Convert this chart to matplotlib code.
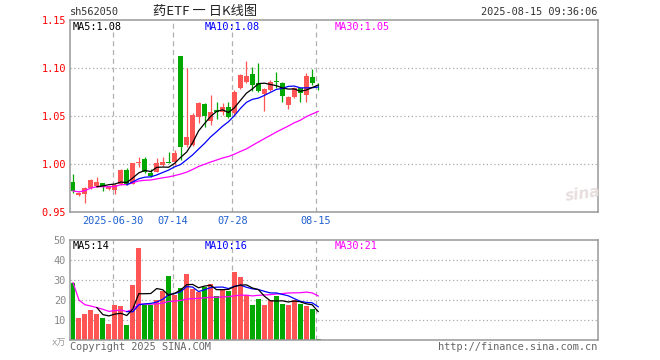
import numpy as np
import pandas as pd
import matplotlib
matplotlib.use('Agg')
import matplotlib.pyplot as plt
import matplotlib.transforms as mtransforms

plt.rcParams['font.family'] = ['DejaVu Sans Mono', 'Noto Sans CJK SC']

# 日K数据 (2025-06-19 ~ 2025-08-15)
dates = ['06-19', '06-20', '06-23', '06-24', '06-25', '06-26', '06-27', '06-30',
         '07-01', '07-02', '07-03', '07-04', '07-07', '07-08', '07-09', '07-10',
         '07-11', '07-14', '07-15', '07-16', '07-17', '07-18', '07-21', '07-22',
         '07-23', '07-24', '07-25', '07-28', '07-29', '07-30', '07-31', '08-01',
         '08-04', '08-05', '08-06', '08-07', '08-08', '08-11', '08-12', '08-13',
         '08-14', '08-15']
opens = [0.9813, 0.9670, 0.9681, 0.9750, 0.9768, 0.9796, 0.9733, 0.9726,
         0.9785, 0.9934, 0.9790, 1.0010, 1.0050, 0.9900, 0.9917, 0.9986,
         1.0018, 1.0021, 1.1122, 1.0195, 1.0195, 1.0490, 1.0619, 1.0445,
         1.0559, 1.0542, 1.0594, 1.0525, 1.0785, 1.0854, 1.0934, 1.0844,
         1.0726, 1.0768, 1.0858, 1.0844, 1.0611, 1.0698, 1.0785, 1.0716,
         1.0906, 1.0832]
highs = [0.9890, 0.9710, 0.9760, 0.9840, 0.9865, 0.9800, 0.9765, 0.9785,
         0.9940, 0.9952, 1.0010, 1.0073, 1.0070, 0.9940, 1.0056, 1.0067,
         1.0125, 1.0143, 1.1122, 1.1000, 1.0525, 1.0646, 1.0630, 1.0716,
         1.0640, 1.0630, 1.0640, 1.0770, 1.0935, 1.1073, 1.1010, 1.1050,
         1.0790, 1.0870, 1.0958, 1.0850, 1.0710, 1.0800, 1.0790, 1.0948,
         1.0986, 1.0838]
lows = [0.9690, 0.9660, 0.9588, 0.9740, 0.9760, 0.9719, 0.9725, 0.9684,
        0.9780, 0.9775, 0.9785, 0.9969, 0.9900, 0.9860, 0.9910, 0.9980,
        1.0004, 0.9986, 1.0039, 1.0177, 1.0180, 1.0421, 1.0385, 1.0403,
        1.0466, 1.0510, 1.0473, 1.0500, 1.0780, 1.0838, 1.0760, 1.0750,
        1.0550, 1.0760, 1.0785, 1.0646, 1.0567, 1.0680, 1.0646, 1.0646,
        1.0820, 1.0768]
closes = [0.9716, 0.9698, 0.9744, 0.9830, 0.9813, 0.9760, 0.9760, 0.9778,
          0.9934, 0.9785, 1.0004, 1.0020, 0.9910, 0.9870, 1.0004, 1.0021,
          1.0012, 1.0115, 1.0177, 1.0281, 1.0507, 1.0629, 1.0500, 1.0542,
          1.0542, 1.0594, 1.0490, 1.0750, 1.0924, 1.0914, 1.0820, 1.0760,
          1.0778, 1.0854, 1.0852, 1.0705, 1.0698, 1.0785, 1.0733, 1.0914,
          1.0837, 1.0827]
# 成交量 (万)
volumes = [28.7, 11.2, 13.0, 15.0, 13.0, 11.2, 8.0, 17.5, 17.0, 7.5,
           27.5, 46.2, 17.5, 17.5, 20.0, 24.5, 32.2, 22.5, 25.8, 33.2,
           25.3, 23.8, 26.7, 28.0, 22.0, 25.3, 24.5, 34.0, 31.5, 22.5,
           17.5, 20.5, 17.5, 20.0, 22.0, 18.0, 17.5, 20.0, 18.0, 17.0,
           15.5, 0.5]

tick_dates = ['06-30', '07-14', '07-28', '08-15']
tick_labels = ['2025-06-30', '07-14', '07-28', '08-15']

RED = '#ff5555'
GREEN = '#00a800'
FRAME = '#999999'
GRID = '#aaaaaa'

df = pd.DataFrame({'open': opens, 'high': highs, 'low': lows, 'close': closes, 'vol': volumes})
x = np.arange(len(df))
up = df['close'] >= df['open']
colors = np.where(up, RED, GREEN)

# 均线
ma5 = df['close'].rolling(5).mean()
ma10 = df['close'].rolling(10).mean()
ma30 = df['close'].rolling(30, min_periods=1).mean()
vma5 = df['vol'].rolling(5).mean()
vma10 = df['vol'].rolling(10).mean()
vma30 = df['vol'].rolling(30, min_periods=1).mean()

W, H = 660, 360
fig = plt.figure(figsize=(6.6, 3.6), dpi=100)
fig.patch.set_facecolor('white')

left, right = 69.5, 597.5
ax1 = fig.add_axes([left / W, 1 - 211.7 / H, (right - left) / W, 192 / H])
ax2 = fig.add_axes([left / W, 1 - 340 / H, (right - left) / W, 100 / H])

xlim = (-0.585, 87.7)
grid_x = [dates.index(d) - 0.35 for d in tick_dates]

for ax in (ax1, ax2):
    ax.set_xlim(*xlim)
    for s in ax.spines.values():
        s.set_color(FRAME)
        s.set_linewidth(1.1)
    for gx in grid_x:
        ax.axvline(gx, color='#b0b0b0', lw=0.9, dashes=(4, 3), zorder=0)
    ax.tick_params(length=0)

# K线
body_w = 0.83
ax1.vlines(x, df['low'], df['high'], colors=colors, lw=0.9, zorder=2)
body_bottom = np.minimum(df['open'], df['close'])
body_h = np.maximum(np.abs(df['close'] - df['open']), 0.0006)
ax1.bar(x, body_h, bottom=body_bottom, width=body_w, color=colors, lw=0, zorder=3)

ax1.plot(x, ma30, color='#ff00ff', lw=0.9, zorder=4)
ax1.plot(x, ma10, color='#0000ff', lw=0.9, zorder=4)
ax1.plot(x, ma5, color='black', lw=0.9, zorder=4)

ax1.set_ylim(0.95, 1.15)
for gy in [1.00, 1.05, 1.10]:
    ax1.axhline(gy, color=GRID, lw=0.9, dashes=(1, 2), zorder=0)
ax1.set_yticks([0.95, 1.00, 1.05, 1.10, 1.15])
ax1.set_yticklabels(['0.95', '1.00', '1.05', '1.10', '1.15'], color='red', fontsize=7.4)
ax1.tick_params(axis='y', pad=2.5)
ax1.set_xticks(grid_x)
ax1.set_xticklabels(tick_labels, color='#1f5fcf', fontsize=7.4)
ax1.tick_params(axis='x', pad=3)

# 成交量
ax2.bar(x, df['vol'], width=body_w, color=colors, lw=0, zorder=2)
ax2.plot(x, vma30, color='#ff00ff', lw=0.9, zorder=4)
ax2.plot(x, vma10, color='#0000ff', lw=0.9, zorder=4)
ax2.plot(x, vma5, color='black', lw=0.9, zorder=4)
ax2.set_ylim(0, 50)
for gy in [10, 20, 30, 40]:
    ax2.axhline(gy, color=GRID, lw=0.9, dashes=(1, 2), zorder=0)
ax2.set_yticks([10, 20, 30, 40, 50])
ax2.set_yticklabels(['10', '20', '30', '40', '50'], color='#888888', fontsize=7.4)
ax2.tick_params(axis='y', pad=2.5)
ax2.set_xticks([])


def ftext(px, py, s, **kw):
    fig.text(px / W, 1 - py / H, s, **kw)


# 标题行
ftext(70, 12, 'sh562050', ha='left', va='center', fontsize=7.4, color='#333333')
ftext(205, 12, '药ETF 一 日K线图', ha='center', va='center', fontsize=9.5, color='#222222',
      family=['Noto Sans CJK SC', 'DejaVu Sans'])
ftext(597.5, 12, '2025-08-15 09:36:06', ha='right', va='center', fontsize=7.4, color='#333333')

# 均线图例
ftext(73, 27, 'MA5:1.08', ha='left', va='center', fontsize=7.4, color='black')
ftext(205, 27, 'MA10:1.08', ha='left', va='center', fontsize=7.4, color='#0000ff')
ftext(335, 27, 'MA30:1.05', ha='left', va='center', fontsize=7.4, color='#ff00ff')
ftext(73, 246, 'MA5:14', ha='left', va='center', fontsize=7.4, color='black')
ftext(205, 246, 'MA10:16', ha='left', va='center', fontsize=7.4, color='#0000ff')
ftext(335, 246, 'MA30:21', ha='left', va='center', fontsize=7.4, color='#ff00ff')

ftext(66, 343, 'x万', ha='right', va='center', fontsize=6.5, color='#999999',
      family=['DejaVu Sans Mono', 'Noto Sans CJK SC'])

# 底部文字
ftext(70, 347, 'Copyright 2025 SINA.COM', ha='left', va='center', fontsize=7.4, color='#666666')
ftext(597.5, 347, 'http://finance.sina.com.cn', ha='right', va='center', fontsize=7.4, color='#666666')

# 水印
ftext(583, 194, 'sina', ha='center', va='center', fontsize=11, color='#e8dede',
      family='DejaVu Sans', style='italic', weight='bold', rotation=8)

fig.savefig('out.png', dpi=100)
